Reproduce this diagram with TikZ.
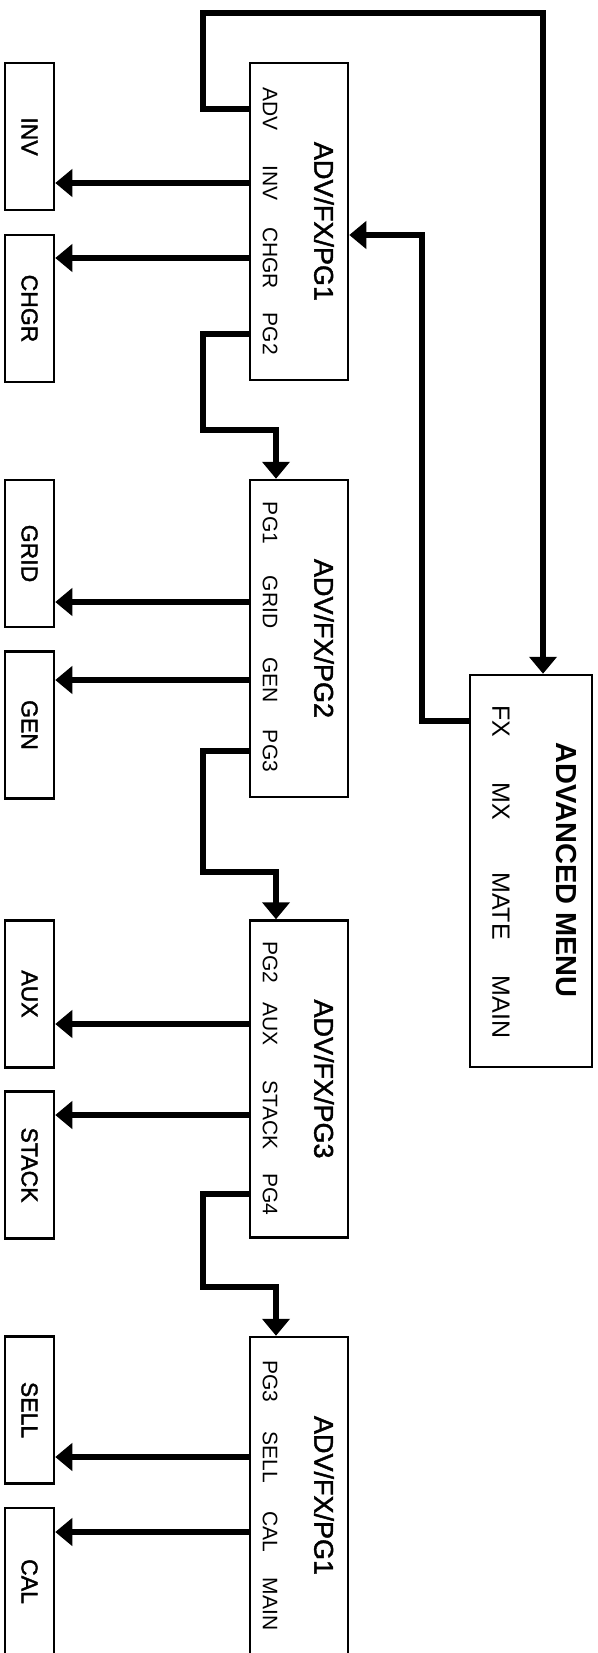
\documentclass[tikz,border=0pt]{standalone}
\usepackage{fontspec}
\setmainfont{Liberation Sans}
\newfontfamily\medfont{Liberation Sans}[FakeBold=1.6]
\usetikzlibrary{arrows.meta}
\begin{document}
\begin{tikzpicture}
[x=1pt, y=-1pt,
page node/.style={draw, line width=2.5pt, inner sep=0pt, minimum width=98pt, minimum height=317pt},
side node/.style={draw, line width=2.5pt, inner sep=0pt, minimum width=49pt, minimum height=147pt},
menu title/.style={rotate=-90, font=\medfont\fontsize{27}{32}\selectfont},
menu item/.style={rotate=-90, font=\fontsize{21}{25}\selectfont},
side label/.style={rotate=-90, font=\medfont\fontsize{23}{27}\selectfont},
link/.style={line width=6.5pt, -{Triangle[length=17pt,width=27pt]}}]
\fill[white] (0,0) rectangle (597,1653);
\useasboundingbox (0,0) rectangle (597,1653);

% advanced menu
\node[draw, line width=2.5pt, inner sep=0pt, minimum width=122pt, minimum height=392pt] (am) at (531,871) {};
\node[menu title, font=\bfseries\fontsize{29}{34}\selectfont] (amt) at (566,870) {ADVANCED MENU};
\node[menu item, font=\fontsize{25}{30}\selectfont] (amfx) at (501,721) {FX};
\node[menu item, font=\fontsize{25}{30}\selectfont] (ammx) at (501,801) {MX};
\node[menu item, font=\fontsize{25}{30}\selectfont] (ammate) at (501,906) {MATE};
\node[menu item, font=\fontsize{25}{30}\selectfont] (ammain) at (501,1007) {MAIN};

% page 1
\node[page node] (b1) at (299,221.5) {};
\node[menu title] (t1) at (324,221.5) {ADV/FX/PG1};
\node[menu item] (i1a) at (270,109) {ADV};
\node[menu item] (i1b) at (270,183) {INV};
\node[menu item] (i1c) at (270,258) {CHGR};
\node[menu item] (i1d) at (270,334) {PG2};
\node[side node] (inv) at (29.5,136.5) {};
\node[side label] at (inv) {INV};
\node[side node] (chgr) at (29.5,308.5) {};
\node[side label] at (chgr) {CHGR};

% page 2
\node[page node] (b2) at (299,638.5) {};
\node[menu title] (t2) at (324,638.5) {ADV/FX/PG2};
\node[menu item] (i2a) at (270,523) {PG1};
\node[menu item] (i2b) at (270,602) {GRID};
\node[menu item] (i2c) at (270,680) {GEN};
\node[menu item] (i2d) at (270,751) {PG3};
\node[side node] (grid) at (29.5,553.5) {};
\node[side label] at (grid) {GRID};
\node[side node] (gen) at (29.5,725) {};
\node[side label] at (gen) {GEN};

% page 3
\node[page node] (b3) at (299,1079) {};
\node[menu title] (t3) at (324,1079) {ADV/FX/PG3};
\node[menu item] (i3a) at (270,962) {PG2};
\node[menu item] (i3b) at (270,1024) {AUX};
\node[menu item] (i3c) at (270,1115) {STACK};
\node[menu item] (i3d) at (270,1194) {PG4};
\node[side node] (aux) at (29.5,994) {};
\node[side label] at (aux) {AUX};
\node[side node] (stack) at (29.5,1165) {};
\node[side label] at (stack) {STACK};

% page 4
\node[page node] (b4) at (299,1495.5) {};
\node[menu title] (t4) at (324,1495.5) {ADV/FX/PG1};
\node[menu item] (i4a) at (270,1381) {PG3};
\node[menu item] (i4b) at (270,1457) {SELL};
\node[menu item] (i4c) at (270,1532) {CAL};
\node[menu item] (i4d) at (270,1604) {MAIN};
\node[side node] (sell) at (29.5,1410) {};
\node[side label] at (sell) {SELL};
\node[side node] (cal) at (29.5,1581.5) {};
\node[side label] at (cal) {CAL};

% bends
\coordinate (topl) at (203,13);
\coordinate (topr) at (543,13);
\coordinate (fxc) at (422,235);
\coordinate (k1) at (203,430);
\coordinate (j1) at (276,430);
\coordinate (k2) at (203,872);
\coordinate (j2) at (276,872);
\coordinate (k3) at (203,1287);
\coordinate (j3) at (276,1287);

\draw[link] (b1.west |- i1a) -| (topl) -- (topr) -- (topr |- am.north);
\draw[link] (am.west |- amfx) -| (fxc) -- (fxc -| b1.east);

\draw[link] (b1.west |- i1b) -- (inv.east |- i1b);
\draw[link] (b1.west |- i1c) -- (chgr.east |- i1c);
\draw[link] (b1.west |- i1d) -| (k1) -- (j1) -- (j1 |- b2.north);

\draw[link] (b2.west |- i2b) -- (grid.east |- i2b);
\draw[link] (b2.west |- i2c) -- (gen.east |- i2c);
\draw[link] (b2.west |- i2d) -| (k2) -- (j2) -- (j2 |- b3.north);

\draw[link] (b3.west |- i3b) -- (aux.east |- i3b);
\draw[link] (b3.west |- i3c) -- (stack.east |- i3c);
\draw[link] (b3.west |- i3d) -| (k3) -- (j3) -- (j3 |- b4.north);

\draw[link] (b4.west |- i4b) -- (sell.east |- i4b);
\draw[link] (b4.west |- i4c) -- (cal.east |- i4c);
\end{tikzpicture}
\end{document}
